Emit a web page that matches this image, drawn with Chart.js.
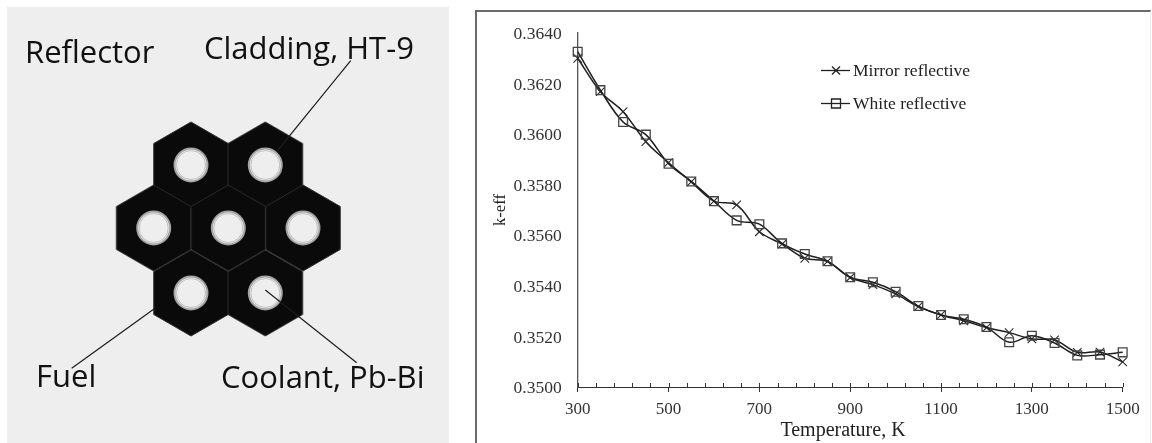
<!DOCTYPE html>
<html>
<head>
<meta charset="utf-8">
<script src="https://cdn.jsdelivr.net/npm/chart.js@4"></script>
<style>
  html, body { margin: 0; padding: 0; background: #fff; }
  #page { position: relative; width: 1152px; height: 443px; overflow: hidden; }
  #panel { position: absolute; left: 7px; top: 7px; width: 442px; height: 436px; background: #eeeeee; }
  #frame { position: absolute; left: 475px; top: 10px; width: 673px; height: 440px;
           border-left: 2px solid #6a6a6a; border-top: 2px solid #6a6a6a; border-right: 1px solid #eeeeee; }
  canvas { position: absolute; top: 0; }
  #cellChart { left: 0; }
  #keffChart { left: 470px; }
</style>
</head>
<body>
<div id="page">
  <div id="panel"></div>
  <div id="frame"></div>
  <canvas id="cellChart" width="470" height="443"></canvas>
  <canvas id="keffChart" width="682" height="443"></canvas>
</div>
<script>
// k-eff vs temperature
const temperature = [300, 350, 400, 450, 500, 550, 600, 650, 700, 750, 800, 850, 900, 950, 1000, 1050, 1100, 1150, 1200, 1250, 1300, 1350, 1400, 1450, 1500];
const mirrorKeff = [0.36300, 0.36168, 0.36089, 0.35970, 0.35887, 0.35811, 0.35735, 0.35720, 0.35614, 0.35565, 0.35509, 0.35497, 0.35433, 0.35405, 0.35368, 0.35318, 0.35285, 0.35262, 0.35235, 0.35215, 0.35190, 0.35186, 0.35137, 0.35138, 0.35099];
const whiteKeff = [0.36326, 0.36174, 0.36048, 0.35998, 0.35883, 0.35813, 0.35735, 0.35659, 0.35644, 0.35568, 0.35526, 0.35497, 0.35434, 0.35414, 0.35377, 0.35320, 0.35285, 0.35268, 0.35237, 0.35177, 0.35203, 0.35174, 0.35125, 0.35128, 0.35137];
const seriesNames = ['Mirror reflective', 'White reflective'];

// fuel cell layout (centres, picture units)
const cellX = [191, 265.3, 153.7, 228.3, 303, 191, 265.3];
const cellY = [165, 165, 228, 228, 228, 293, 293];
const leaderCladding = [[350.7, 60.7], [276.7, 151.7]];
const leaderCoolant = [[265.3, 290], [356.7, 362.7]];
const leaderFuel = [[71.7, 368.3], [155, 308.3]];
const cellLabels = ['Reflector', 'Cladding, HT-9', 'Fuel', 'Coolant, Pb-Bi'];
const cellLabelX = [25, 204, 36, 221];
const cellLabelY = [54, 50, 378, 379];

const toPoints = (xs, ys) => xs.map((x, i) => ({ x: x, y: ys[i] }));
const toLeader = pts => pts.map(p => ({ x: p[0], y: p[1] }));

function hexStamp(r) {
  const size = Math.ceil(r * 2 + 4);
  const c = document.createElement('canvas');
  c.width = size;
  c.height = size;
  const g = c.getContext('2d');
  g.beginPath();
  for (let i = 0; i < 6; i++) {
    const a = Math.PI / 3 * i - Math.PI / 2;
    g.lineTo(size / 2 + r * Math.cos(a), size / 2 + r * Math.sin(a));
  }
  g.closePath();
  g.fillStyle = '#0a0a0a';
  g.fill();
  g.strokeStyle = '#2c2c2c';
  g.lineWidth = 1;
  g.stroke();
  return c;
}

const leaderStyle = { type: 'line', borderColor: '#1c1c1c', borderWidth: 1.2, pointRadius: 0, clip: false };

const cellLabelPlugin = {
  id: 'cellLabelPlugin',
  afterDatasetsDraw(chart) {
    const ctx = chart.ctx;
    ctx.save();
    ctx.font = '31px "Open Sans"';
    ctx.fillStyle = '#111';
    ctx.textBaseline = 'middle';
    cellLabels.forEach((t, i) => {
      ctx.fillText(t, chart.scales.x.getPixelForValue(cellLabelX[i]), chart.scales.y.getPixelForValue(cellLabelY[i]));
    });
    ctx.restore();
  }
};

new Chart(document.getElementById('cellChart'), {
  type: 'scatter',
  data: {
    datasets: [
      { data: toPoints(cellX, cellY), order: 6, pointStyle: hexStamp(43), pointRadius: 43, clip: false },
      { data: toPoints(cellX, cellY), order: 5, pointStyle: 'circle', pointRadius: 16.5, backgroundColor: '#e8e8e8', borderColor: '#a4a4a4', borderWidth: 2, clip: false },
      { data: toPoints(cellX, cellY), order: 4, pointStyle: 'circle', pointRadius: 14.5, backgroundColor: '#eeeeee', borderColor: '#c0c0c0', borderWidth: 1, clip: false },
      { ...leaderStyle, order: 3, data: toLeader(leaderCladding) },
      { ...leaderStyle, order: 2, data: toLeader(leaderCoolant) },
      { ...leaderStyle, order: 1, data: toLeader(leaderFuel) }
    ]
  },
  options: {
    responsive: false,
    animation: false,
    layout: { padding: 0, autoPadding: false },
    plugins: { legend: { display: false }, tooltip: { enabled: false } },
    scales: {
      x: { display: false, min: 0, max: 470 },
      y: { display: false, min: 0, max: 443, reverse: true }
    }
  },
  plugins: [cellLabelPlugin]
});

// small inner ticks every 40 K, the legend and the off-centre x title
const axisExtras = {
  id: 'axisExtras',
  afterDraw(chart) {
    const ctx = chart.ctx;
    const sx = chart.scales.x;
    const base = sx.top;
    ctx.save();
    ctx.strokeStyle = '#333';
    ctx.lineWidth = 1;
    ctx.beginPath();
    for (let t = 300; t <= 1500; t += 40) {
      const px = Math.round(sx.getPixelForValue(t)) + 0.5;
      ctx.moveTo(px, base);
      ctx.lineTo(px, base - 4);
    }
    ctx.stroke();

    ctx.fillStyle = '#222';
    ctx.font = '20px "Liberation Serif"';
    ctx.textAlign = 'center';
    ctx.textBaseline = 'middle';
    ctx.fillText('Temperature, K', 373, 431);

    // legend
    const rows = [{ y: 70.5, i: 0 }, { y: 103.5, i: 1 }];
    ctx.font = '17.5px "Liberation Serif"';
    ctx.textAlign = 'left';
    rows.forEach(r => {
      ctx.strokeStyle = '#222';
      ctx.lineWidth = 1.3;
      ctx.beginPath();
      ctx.moveTo(351, r.y);
      ctx.lineTo(380, r.y);
      ctx.stroke();
      ctx.beginPath();
      if (r.i === 0) {
        ctx.moveTo(362, r.y - 4);
        ctx.lineTo(370, r.y + 4);
        ctx.moveTo(362, r.y + 4);
        ctx.lineTo(370, r.y - 4);
      } else {
        ctx.rect(361.5, r.y - 4.5, 9, 9);
      }
      ctx.stroke();
      ctx.fillStyle = '#222';
      ctx.fillText(chart.data.datasets[r.i].label, 383, r.y + 1);
    });
    ctx.restore();
  }
};

new Chart(document.getElementById('keffChart'), {
  type: 'line',
  data: {
    labels: temperature,
    datasets: [
      {
        label: seriesNames[0],
        data: toPoints(temperature, mirrorKeff),
        order: 2,
        borderColor: '#1e1e1e',
        borderWidth: 1.5,
        tension: 0.35,
        pointStyle: 'crossRot',
        pointRadius: 6,
        pointBorderColor: '#2a2a2a',
        pointBorderWidth: 1.1,
        clip: false
      },
      {
        label: seriesNames[1],
        data: toPoints(temperature, whiteKeff),
        order: 1,
        borderColor: '#1e1e1e',
        borderWidth: 1.5,
        tension: 0.35,
        pointStyle: 'rect',
        pointRadius: 6.2,
        pointBackgroundColor: 'transparent',
        pointBorderColor: '#444',
        pointBorderWidth: 1.3,
        clip: false
      }
    ]
  },
  options: {
    responsive: false,
    animation: false,
    layout: { padding: { top: 33, right: 29.3, left: 0, bottom: 0 }, autoPadding: false },
    plugins: { legend: { display: false }, tooltip: { enabled: false } },
    scales: {
      x: {
        type: 'linear',
        min: 300,
        max: 1500,
        afterFit: s => { s.height = 56; },
        border: { color: '#333', width: 1 },
        grid: { drawOnChartArea: false, tickLength: 5, tickColor: '#333' },
        ticks: {
          stepSize: 200,
          maxRotation: 0,
          padding: 7,
          color: '#333',
          font: { family: '"Liberation Serif"', size: 17 },
          callback: v => String(v)
        }
      },
      y: {
        min: 0.35,
        max: 0.364,
        afterFit: s => { s.width = 107.7; },
        border: { color: '#555', width: 1.3 },
        grid: { drawOnChartArea: false, drawTicks: false },
        ticks: {
          stepSize: 0.002,
          padding: 16,
          labelOffset: 1.5,
          color: '#333',
          font: { family: '"Liberation Serif"', size: 17.5 },
          callback: v => v.toFixed(4)
        },
        title: {
          display: true,
          text: 'k-eff',
          color: '#222',
          font: { family: '"Liberation Serif"', size: 16.5 },
          padding: { top: 21, bottom: 0 }
        }
      }
    }
  },
  plugins: [axisExtras]
});
</script>
</body>
</html>
